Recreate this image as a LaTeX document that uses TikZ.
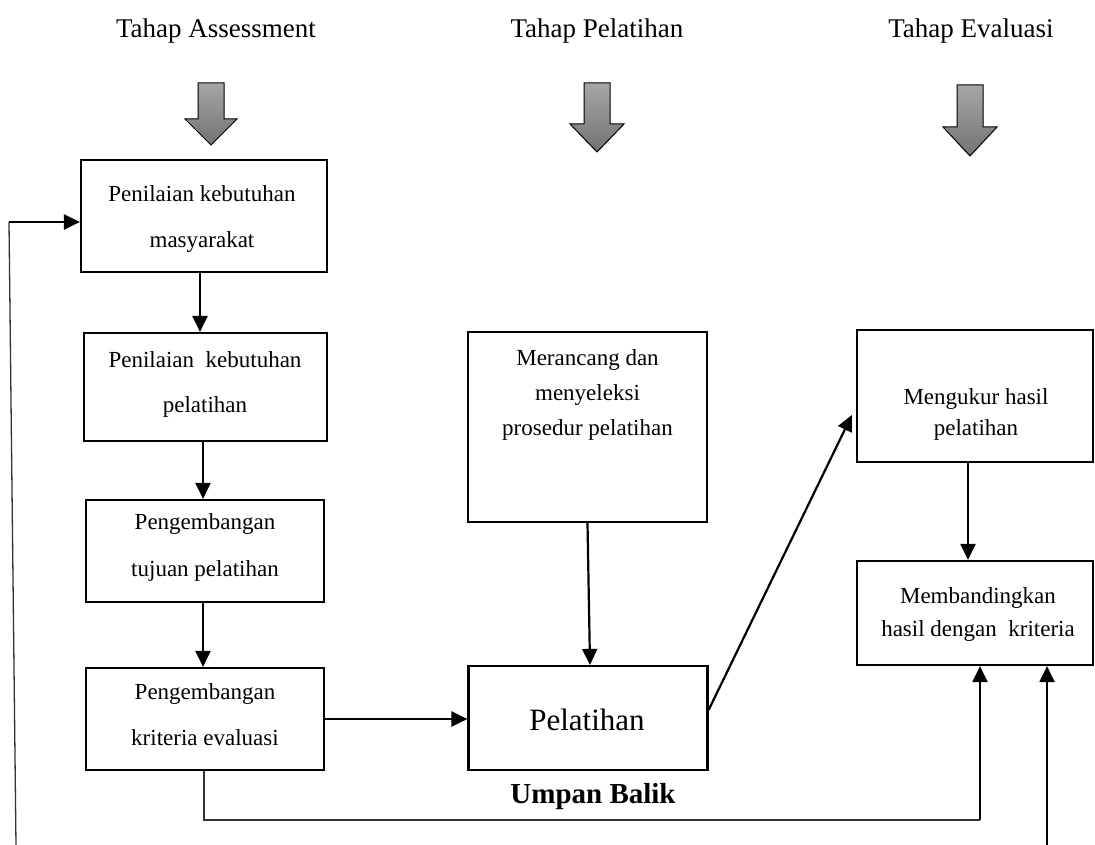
\documentclass[tikz,border=0pt]{standalone}
\usepackage{fontspec}
\setmainfont{Liberation Serif}
\usetikzlibrary{arrows.meta}
\begin{document}
\begin{tikzpicture}[x=1pt,y=-1pt,
  box/.style={draw, line width=2.2pt, inner sep=0pt},
  txt/.style={align=center, inner sep=0pt},
  ttl/.style={font=\fontsize{27}{32}\selectfont, inner sep=0pt},
  arr/.style={line width=2.2pt, -{Triangle[length=16pt,width=15pt]}},
  thinline/.style={line width=1.3pt, draw=black!80},
  blockarrow/.style={draw=black, line width=1pt, top color=black!35, bottom color=black!55}]
\useasboundingbox (0,0) rectangle (1095,845);
% titles
\node[ttl] (h1) at (216,31) {Tahap Assessment};
\node[ttl] (h2) at (597,31) {Tahap Pelatihan};
\node[ttl] (h3) at (971,31) {Tahap Evaluasi};
% block arrows
\shade[blockarrow] (198,83) -- (224,83) -- (224,119) -- (237,119) -- (211,145) -- (185,119) -- (198,119) -- cycle;
\shade[blockarrow] (584,83) -- (610,83) -- (610,124) -- (624,124) -- (597,152) -- (570,124) -- (584,124) -- cycle;
\shade[blockarrow] (957,85) -- (983,85) -- (983,127) -- (997,127) -- (970,156) -- (943,127) -- (957,127) -- cycle;
% boxes
\node[box, minimum width=246pt, minimum height=112pt] (b1) at (204,216) {};
\node[txt, font=\fontsize{23}{46}\selectfont] (t1) at (202,219) {Penilaian kebutuhan\\masyarakat};
\node[box, minimum width=243pt, minimum height=108pt] (b2) at (205.5,387) {};
\node[txt, font=\fontsize{23}{45}\selectfont] (t2) at (205,384.5) {Penilaian \ kebutuhan\\pelatihan};
\node[box, minimum width=238pt, minimum height=102pt] (b3) at (205,551) {};
\node[txt, font=\fontsize{23}{47}\selectfont] (t3) at (205,547.5) {Pengembangan\\tujuan pelatihan};
\node[box, minimum width=238pt, minimum height=102pt] (b4) at (205,719) {};
\node[txt, font=\fontsize{23}{46}\selectfont] (t4) at (205,715) {Pengembangan\\kriteria evaluasi};
\node[box, minimum width=239pt, minimum height=190pt] (b5) at (587.5,427) {};
\node[txt, font=\fontsize{23}{35}\selectfont] (t5) at (587.5,395) {Merancang dan\\menyeleksi\\prosedur pelatihan};
\node[box, minimum width=239pt, minimum height=104pt] (b6) at (588,718) {};
\node[txt, font=\fontsize{31}{36}\selectfont] (t6) at (587,720) {Pelatihan};
\node[box, minimum width=236pt, minimum height=132pt] (b7) at (975,396) {};
\node[txt, font=\fontsize{23}{31}\selectfont] (t7) at (976,414) {Mengukur hasil\\pelatihan};
\node[box, minimum width=236pt, minimum height=104pt] (b8) at (975,613) {};
\node[txt, font=\fontsize{23}{33}\selectfont] (t8) at (978,614) {Membandingkan\\hasil dengan \ kriteria};
% feedback label
\node[inner sep=0pt, font=\fontsize{29}{34}\selectfont\bfseries] (ub) at (593,797) {Umpan Balik};
% coordinates
\coordinate (fb1) at (204,820);
\coordinate (fb2) at (980,820);
\coordinate (r0) at (1047,845);
\coordinate (l0) at (16,845);
\coordinate (l1) at (9,222);
% connectors
\draw[arr] ([xshift=-4pt]b1.south) -- ([xshift=-4pt]b1.south |- b2.north);
\draw[arr] ([xshift=-2.5pt]b2.south) -- ([xshift=-2.5pt]b2.south |- b3.north);
\draw[arr] ([xshift=-2pt]b3.south) -- ([xshift=-2pt]b3.south |- b4.north);
\draw[arr] (b4.east) -- (b4.east -| b6.west);
\draw[arr] (b5.south) -- ([xshift=2pt]b6.north);
\draw[arr] ([yshift=8pt]b6.east) -- ([xshift=-4pt,yshift=-19pt]b7.west);
\draw[arr] ([xshift=-7pt]b7.south) -- ([xshift=-7pt]b8.north);
\draw[thinline] (b4.south -| fb1) -- (fb1) -- (fb2);
\draw[arr] (fb2) -- (fb2 |- b8.south);
\draw[arr] (r0) -- (r0 |- b8.south);
\draw[thinline] (l0) -- (l1);
\draw[arr] (l1) -- (l1 -| b1.west);
\end{tikzpicture}
\end{document}
